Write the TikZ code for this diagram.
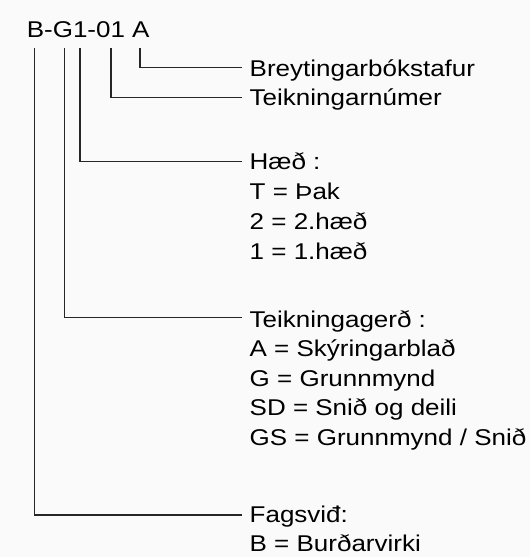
\documentclass[tikz,border=0pt]{standalone}
\usepackage{fontspec}
\setmainfont{Liberation Sans}[FakeStretch=1.14]
\begin{document}
\begin{tikzpicture}[x=1pt,y=-1pt,
  txt/.style={anchor=base west,inner sep=0pt,font=\fontsize{22.8}{29}\selectfont},
  lead/.style={line width=1.2pt,draw=black!85}]
\useasboundingbox[fill=white!98!black] (0,0) rectangle (530,557);
% title
\node[txt] (title) at (26.6,37.3) {B-G1-01 A};
% anchor coordinates on title
\coordinate (tB) at (34.3,48.3);
\coordinate (tG) at (64.3,48.3);
\coordinate (t1) at (80,48.3);
\coordinate (t01) at (111,48.3);
\coordinate (tA) at (140,48.3);
% labels
\node[txt] (breyt) at (249.5,76.7) {Breytingarbókstafur};
\node[txt] (teiknr) at (249.5,105.5) {Teikningarnúmer};
\node[txt] (haed) at (249.5,169.3) {Hæð :};
\node[txt] (haed1) at (249.5,199.5) {T = Þak};
\node[txt] (haed2) at (249.5,229.7) {2 = 2.hæð};
\node[txt] (haed3) at (249.5,259.9) {1 = 1.hæð};
\node[txt] (gerd) at (249.5,327.3) {Teikningagerð :};
\node[txt] (gerd1) at (249.5,356.8) {A = Skýringarblað};
\node[txt] (gerd2) at (249.5,386.3) {G = Grunnmynd};
\node[txt] (gerd3) at (249.5,415.8) {SD = Snið og deili};
\node[txt] (gerd4) at (249.5,445.3) {GS = Grunnmynd / Snið};
\node[txt] (fag) at (249.5,522.3) {Fagsviđ:};
\node[txt] (fag1) at (249.5,551.3) {B = Burðarvirki};
% leaders
\coordinate (eA) at (242,67.7);
\coordinate (e01) at (242,97.7);
\coordinate (e1) at (242,161.7);
\coordinate (eG) at (242,317.7);
\coordinate (eB) at (242,515);
\draw[lead] (tA) |- (eA);
\draw[lead] (t01) |- (e01);
\draw[lead] (t1) |- (e1);
\draw[lead] (tG) |- (eG);
\draw[lead] (tB) |- (eB);
\end{tikzpicture}
\end{document}
